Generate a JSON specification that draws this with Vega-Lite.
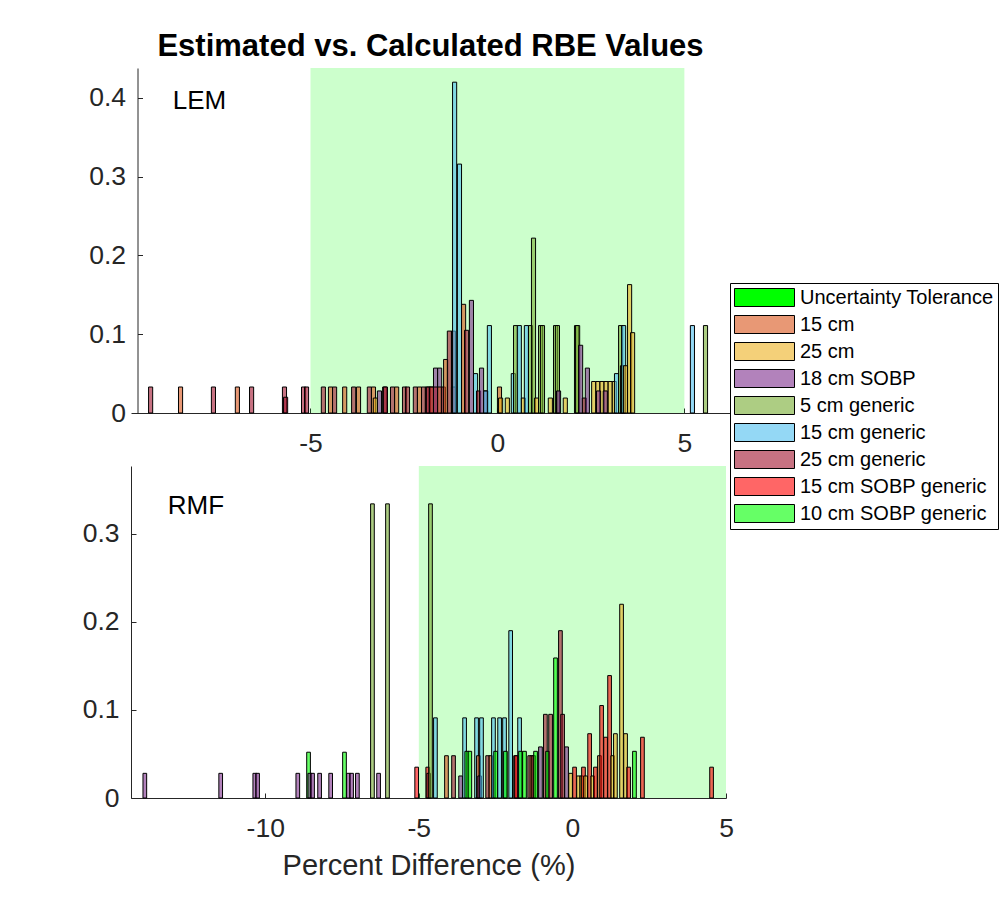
{
  "$schema": "https://vega.github.io/schema/vega-lite/v6.json",
  "background": "white",
  "padding": {"left": 82, "top": 31, "right": 2, "bottom": 5},
  "bounds": "flush",
  "spacing": 53,
  "config": {
    "font": "Liberation Sans",
    "view": {"stroke": null},
    "axis": {
      "grid": false,
      "domainColor": "#262626",
      "tickColor": "#262626",
      "labelColor": "#262626",
      "labelFont": "Liberation Sans",
      "labelFontSize": 26.5,
      "labelFlush": false,
      "labelOverlap": false,
      "tickSize": -5,
      "domainWidth": 1,
      "tickWidth": 1,
      "titleFont": "Liberation Sans",
      "titleFontSize": 29,
      "titleFontWeight": "normal",
      "titleColor": "#262626"
    },
    "axisX": {"labelPadding": 22, "titlePadding": 10},
    "axisY": {"labelPadding": 17}
  },
  "datasets": {
    "lem": [
      {"s": "25 cm generic", "a": -9.33, "b": -9.22, "h": 0.033},
      {"s": "15 cm", "a": -8.53, "b": -8.42, "h": 0.033},
      {"s": "25 cm generic", "a": -7.65, "b": -7.54, "h": 0.033},
      {"s": "15 cm", "a": -7.01, "b": -6.9, "h": 0.033},
      {"s": "25 cm generic", "a": -6.63, "b": -6.52, "h": 0.033},
      {"s": "25 cm generic", "a": -5.75, "b": -5.64, "h": 0.033},
      {"s": "25 cm generic", "a": -5.72, "b": -5.61, "h": 0.02},
      {"s": "25 cm generic", "a": -5.24, "b": -5.13, "h": 0.033},
      {"s": "25 cm generic", "a": -5.16, "b": -5.05, "h": 0.033},
      {"s": "25 cm generic", "a": -4.71, "b": -4.6, "h": 0.033},
      {"s": "15 cm", "a": -4.52, "b": -4.41, "h": 0.033},
      {"s": "25 cm generic", "a": -4.41, "b": -4.3, "h": 0.033},
      {"s": "15 cm", "a": -4.14, "b": -4.03, "h": 0.033},
      {"s": "25 cm generic", "a": -3.9, "b": -3.79, "h": 0.033},
      {"s": "15 cm", "a": -3.77, "b": -3.66, "h": 0.033},
      {"s": "25 cm generic", "a": -3.48, "b": -3.37, "h": 0.033},
      {"s": "15 cm", "a": -3.37, "b": -3.26, "h": 0.033},
      {"s": "25 cm", "a": -3.32, "b": -3.21, "h": 0.019},
      {"s": "18 cm SOBP", "a": -3.21, "b": -3.1, "h": 0.028},
      {"s": "25 cm generic", "a": -3.07, "b": -2.96, "h": 0.033},
      {"s": "25 cm generic", "a": -3.05, "b": -2.94, "h": 0.033},
      {"s": "25 cm generic", "a": -2.86, "b": -2.75, "h": 0.033},
      {"s": "15 cm", "a": -2.75, "b": -2.64, "h": 0.033},
      {"s": "25 cm generic", "a": -2.54, "b": -2.43, "h": 0.033},
      {"s": "25 cm generic", "a": -2.46, "b": -2.35, "h": 0.033},
      {"s": "25 cm generic", "a": -2.25, "b": -2.14, "h": 0.033},
      {"s": "15 cm", "a": -2.14, "b": -2.03, "h": 0.033},
      {"s": "25 cm generic", "a": -2.03, "b": -1.92, "h": 0.033},
      {"s": "25 cm generic", "a": -1.93, "b": -1.82, "h": 0.033},
      {"s": "25 cm generic", "a": -1.9, "b": -1.79, "h": 0.033},
      {"s": "15 cm", "a": -1.82, "b": -1.71, "h": 0.033},
      {"s": "25 cm generic", "a": -1.82, "b": -1.71, "h": 0.033},
      {"s": "18 cm SOBP", "a": -1.71, "b": -1.6, "h": 0.057},
      {"s": "25 cm generic", "a": -1.71, "b": -1.6, "h": 0.033},
      {"s": "18 cm SOBP", "a": -1.6, "b": -1.49, "h": 0.057},
      {"s": "15 cm", "a": -1.6, "b": -1.49, "h": 0.033},
      {"s": "25 cm generic", "a": -1.5, "b": -1.39, "h": 0.033},
      {"s": "15 cm", "a": -1.44, "b": -1.33, "h": 0.068},
      {"s": "25 cm generic", "a": -1.34, "b": -1.23, "h": 0.104},
      {"s": "25 cm generic", "a": -1.23, "b": -1.12, "h": 0.104},
      {"s": "25 cm generic", "a": -1.23, "b": -1.12, "h": 0.033},
      {"s": "15 cm generic", "a": -1.2, "b": -1.09, "h": 0.42},
      {"s": "15 cm generic", "a": -1.07, "b": -0.96, "h": 0.316},
      {"s": "15 cm", "a": -0.96, "b": -0.85, "h": 0.138},
      {"s": "25 cm generic", "a": -0.88, "b": -0.77, "h": 0.105},
      {"s": "18 cm SOBP", "a": -0.75, "b": -0.64, "h": 0.143},
      {"s": "15 cm generic", "a": -0.64, "b": -0.53, "h": 0.05},
      {"s": "25 cm generic", "a": -0.56, "b": -0.45, "h": 0.028},
      {"s": "18 cm SOBP", "a": -0.48, "b": -0.37, "h": 0.057},
      {"s": "18 cm SOBP", "a": -0.37, "b": -0.26, "h": 0.028},
      {"s": "15 cm generic", "a": -0.37, "b": -0.26, "h": 0.028},
      {"s": "15 cm generic", "a": -0.27, "b": -0.16, "h": 0.111},
      {"s": "15 cm", "a": 0.0, "b": 0.11, "h": 0.033},
      {"s": "25 cm", "a": 0.03, "b": 0.14, "h": 0.019},
      {"s": "25 cm", "a": 0.21, "b": 0.32, "h": 0.019},
      {"s": "15 cm generic", "a": 0.37, "b": 0.48, "h": 0.05},
      {"s": "5 cm generic", "a": 0.43, "b": 0.54, "h": 0.111},
      {"s": "15 cm generic", "a": 0.53, "b": 0.64, "h": 0.111},
      {"s": "25 cm", "a": 0.64, "b": 0.75, "h": 0.019},
      {"s": "15 cm generic", "a": 0.72, "b": 0.83, "h": 0.111},
      {"s": "5 cm generic", "a": 0.83, "b": 0.94, "h": 0.111},
      {"s": "5 cm generic", "a": 0.91, "b": 1.02, "h": 0.222},
      {"s": "25 cm", "a": 0.99, "b": 1.1, "h": 0.019},
      {"s": "5 cm generic", "a": 1.1, "b": 1.21, "h": 0.111},
      {"s": "5 cm generic", "a": 1.15, "b": 1.26, "h": 0.111},
      {"s": "25 cm", "a": 1.36, "b": 1.47, "h": 0.019},
      {"s": "5 cm generic", "a": 1.5, "b": 1.61, "h": 0.111},
      {"s": "5 cm generic", "a": 1.55, "b": 1.66, "h": 0.111},
      {"s": "18 cm SOBP", "a": 1.58, "b": 1.69, "h": 0.028},
      {"s": "25 cm", "a": 1.76, "b": 1.87, "h": 0.019},
      {"s": "5 cm generic", "a": 2.06, "b": 2.17, "h": 0.111},
      {"s": "5 cm generic", "a": 2.09, "b": 2.2, "h": 0.111},
      {"s": "18 cm SOBP", "a": 2.17, "b": 2.28, "h": 0.086},
      {"s": "25 cm generic", "a": 2.27, "b": 2.38, "h": 0.019},
      {"s": "18 cm SOBP", "a": 2.35, "b": 2.46, "h": 0.057},
      {"s": "25 cm", "a": 2.52, "b": 2.63, "h": 0.04},
      {"s": "25 cm", "a": 2.63, "b": 2.74, "h": 0.04},
      {"s": "25 cm", "a": 2.74, "b": 2.85, "h": 0.04},
      {"s": "25 cm", "a": 2.85, "b": 2.96, "h": 0.04},
      {"s": "25 cm", "a": 2.96, "b": 3.07, "h": 0.04},
      {"s": "25 cm", "a": 3.07, "b": 3.18, "h": 0.04},
      {"s": "18 cm SOBP", "a": 2.65, "b": 2.76, "h": 0.028},
      {"s": "18 cm SOBP", "a": 2.83, "b": 2.94, "h": 0.028},
      {"s": "15 cm generic", "a": 3.13, "b": 3.24, "h": 0.05},
      {"s": "5 cm generic", "a": 3.24, "b": 3.35, "h": 0.111},
      {"s": "5 cm generic", "a": 3.29, "b": 3.4, "h": 0.06},
      {"s": "15 cm generic", "a": 3.32, "b": 3.43, "h": 0.111},
      {"s": "25 cm", "a": 3.37, "b": 3.48, "h": 0.06},
      {"s": "25 cm", "a": 3.48, "b": 3.59, "h": 0.163},
      {"s": "25 cm", "a": 3.56, "b": 3.67, "h": 0.102},
      {"s": "15 cm generic", "a": 5.16, "b": 5.27, "h": 0.111},
      {"s": "5 cm generic", "a": 5.51, "b": 5.62, "h": 0.111}
    ],
    "rmf": [
      {"s": "18 cm SOBP", "a": -13.98, "b": -13.86, "h": 0.028},
      {"s": "18 cm SOBP", "a": -11.51, "b": -11.39, "h": 0.028},
      {"s": "18 cm SOBP", "a": -10.4, "b": -10.28, "h": 0.028},
      {"s": "18 cm SOBP", "a": -10.31, "b": -10.19, "h": 0.028},
      {"s": "18 cm SOBP", "a": -9.0, "b": -8.88, "h": 0.028},
      {"s": "10 cm SOBP generic", "a": -8.65, "b": -8.53, "h": 0.052},
      {"s": "18 cm SOBP", "a": -8.61, "b": -8.49, "h": 0.028},
      {"s": "18 cm SOBP", "a": -8.52, "b": -8.4, "h": 0.028},
      {"s": "18 cm SOBP", "a": -8.29, "b": -8.17, "h": 0.028},
      {"s": "18 cm SOBP", "a": -7.93, "b": -7.81, "h": 0.028},
      {"s": "10 cm SOBP generic", "a": -7.48, "b": -7.36, "h": 0.052},
      {"s": "18 cm SOBP", "a": -7.35, "b": -7.23, "h": 0.028},
      {"s": "18 cm SOBP", "a": -7.25, "b": -7.13, "h": 0.028},
      {"s": "18 cm SOBP", "a": -7.06, "b": -6.94, "h": 0.028},
      {"s": "5 cm generic", "a": -6.57, "b": -6.45, "h": 0.334},
      {"s": "18 cm SOBP", "a": -6.37, "b": -6.25, "h": 0.028},
      {"s": "5 cm generic", "a": -6.08, "b": -5.96, "h": 0.334},
      {"s": "15 cm SOBP generic", "a": -5.13, "b": -5.01, "h": 0.035},
      {"s": "15 cm SOBP generic", "a": -4.77, "b": -4.65, "h": 0.035},
      {"s": "25 cm generic", "a": -4.74, "b": -4.62, "h": 0.028},
      {"s": "5 cm generic", "a": -4.68, "b": -4.56, "h": 0.334},
      {"s": "15 cm generic", "a": -4.52, "b": -4.4, "h": 0.091},
      {"s": "15 cm", "a": -4.16, "b": -4.04, "h": 0.048},
      {"s": "25 cm generic", "a": -3.93, "b": -3.81, "h": 0.048},
      {"s": "18 cm SOBP", "a": -3.7, "b": -3.58, "h": 0.025},
      {"s": "15 cm generic", "a": -3.57, "b": -3.45, "h": 0.091},
      {"s": "10 cm SOBP generic", "a": -3.5, "b": -3.38, "h": 0.053},
      {"s": "10 cm SOBP generic", "a": -3.4, "b": -3.28, "h": 0.053},
      {"s": "15 cm generic", "a": -3.18, "b": -3.06, "h": 0.091},
      {"s": "15 cm", "a": -3.12, "b": -3.0, "h": 0.048},
      {"s": "18 cm SOBP", "a": -3.08, "b": -2.96, "h": 0.025},
      {"s": "15 cm generic", "a": -3.02, "b": -2.9, "h": 0.091},
      {"s": "25 cm generic", "a": -2.82, "b": -2.7, "h": 0.048},
      {"s": "15 cm", "a": -2.72, "b": -2.6, "h": 0.048},
      {"s": "15 cm generic", "a": -2.63, "b": -2.51, "h": 0.091},
      {"s": "10 cm SOBP generic", "a": -2.56, "b": -2.44, "h": 0.053},
      {"s": "15 cm generic", "a": -2.43, "b": -2.31, "h": 0.091},
      {"s": "15 cm generic", "a": -2.27, "b": -2.15, "h": 0.091},
      {"s": "10 cm SOBP generic", "a": -2.24, "b": -2.12, "h": 0.053},
      {"s": "15 cm generic", "a": -2.07, "b": -1.95, "h": 0.19},
      {"s": "25 cm generic", "a": -1.91, "b": -1.79, "h": 0.048},
      {"s": "15 cm SOBP generic", "a": -1.88, "b": -1.76, "h": 0.048},
      {"s": "15 cm generic", "a": -1.78, "b": -1.66, "h": 0.091},
      {"s": "10 cm SOBP generic", "a": -1.75, "b": -1.63, "h": 0.053},
      {"s": "10 cm SOBP generic", "a": -1.62, "b": -1.5, "h": 0.053},
      {"s": "25 cm generic", "a": -1.45, "b": -1.33, "h": 0.048},
      {"s": "15 cm", "a": -1.38, "b": -1.26, "h": 0.048},
      {"s": "25 cm generic", "a": -1.32, "b": -1.2, "h": 0.048},
      {"s": "10 cm SOBP generic", "a": -1.26, "b": -1.14, "h": 0.053},
      {"s": "18 cm SOBP", "a": -1.1, "b": -0.98, "h": 0.058},
      {"s": "25 cm generic", "a": -0.94, "b": -0.82, "h": 0.095},
      {"s": "10 cm SOBP generic", "a": -0.87, "b": -0.75, "h": 0.053},
      {"s": "25 cm generic", "a": -0.77, "b": -0.65, "h": 0.095},
      {"s": "10 cm SOBP generic", "a": -0.61, "b": -0.49, "h": 0.159},
      {"s": "25 cm generic", "a": -0.45, "b": -0.33, "h": 0.19},
      {"s": "25 cm generic", "a": -0.38, "b": -0.26, "h": 0.095},
      {"s": "18 cm SOBP", "a": -0.25, "b": -0.13, "h": 0.058},
      {"s": "25 cm", "a": -0.12, "b": 0.0, "h": 0.028},
      {"s": "15 cm SOBP generic", "a": 0.01, "b": 0.13, "h": 0.035},
      {"s": "25 cm", "a": 0.14, "b": 0.26, "h": 0.025},
      {"s": "25 cm", "a": 0.24, "b": 0.36, "h": 0.025},
      {"s": "15 cm SOBP generic", "a": 0.3, "b": 0.42, "h": 0.035},
      {"s": "25 cm", "a": 0.37, "b": 0.49, "h": 0.025},
      {"s": "15 cm SOBP generic", "a": 0.5, "b": 0.62, "h": 0.073},
      {"s": "25 cm", "a": 0.6, "b": 0.72, "h": 0.025},
      {"s": "15 cm SOBP generic", "a": 0.69, "b": 0.81, "h": 0.035},
      {"s": "15 cm", "a": 0.82, "b": 0.94, "h": 0.048},
      {"s": "15 cm SOBP generic", "a": 0.89, "b": 1.01, "h": 0.105},
      {"s": "15 cm SOBP generic", "a": 1.02, "b": 1.14, "h": 0.069},
      {"s": "15 cm SOBP generic", "a": 1.15, "b": 1.27, "h": 0.139},
      {"s": "25 cm", "a": 1.25, "b": 1.37, "h": 0.048},
      {"s": "25 cm", "a": 1.34, "b": 1.46, "h": 0.073},
      {"s": "25 cm", "a": 1.54, "b": 1.66, "h": 0.22},
      {"s": "25 cm", "a": 1.67, "b": 1.79, "h": 0.073},
      {"s": "15 cm SOBP generic", "a": 1.77, "b": 1.89, "h": 0.035},
      {"s": "10 cm SOBP generic", "a": 1.96, "b": 2.08, "h": 0.053},
      {"s": "15 cm SOBP generic", "a": 2.22, "b": 2.34, "h": 0.069},
      {"s": "15 cm SOBP generic", "a": 4.47, "b": 4.59, "h": 0.035}
    ]
  },
  "vconcat": [
    {
      "width": 599,
      "height": 345,
      "title": {
        "text": "Estimated vs. Calculated RBE Values",
        "fontSize": 31,
        "fontWeight": "bold",
        "font": "Liberation Sans",
        "color": "black",
        "anchor": "middle",
        "offset": 5
      },
      "layer": [
        {
          "data": {"values": [{"s": "Uncertainty Tolerance", "a": -5, "b": 5}]},
          "mark": {"type": "rect", "opacity": 0.2},
          "encoding": {
            "x": {"field": "a", "type": "quantitative", "scale": {"domain": [-9.8, 6.22], "nice": false, "zero": false}},
            "x2": {"field": "b"},
            "color": {"field": "s", "type": "nominal"}
          }
        },
        {
          "data": {"name": "lem"},
          "mark": {"type": "bar", "fillOpacity": 0.6, "stroke": "black", "strokeWidth": 1},
          "encoding": {
            "x": {
              "field": "a", "type": "quantitative",
              "scale": {"domain": [-9.8, 6.22], "nice": false, "zero": false},
              "axis": {"title": null, "values": [-5, 0, 5], "labelExpr": "'' + datum.value"}
            },
            "x2": {"field": "b"},
            "y": {
              "field": "h", "type": "quantitative",
              "scale": {"domain": [0, 0.438], "nice": false},
              "axis": {"title": null, "values": [0, 0.1, 0.2, 0.3, 0.4], "labelExpr": "'' + datum.value", "offset": -6.5}
            },
            "y2": {"datum": 0},
            "color": {
              "field": "s", "type": "nominal",
              "scale": {
                "domain": ["Uncertainty Tolerance", "15 cm", "25 cm", "18 cm SOBP", "5 cm generic", "15 cm generic", "25 cm generic", "15 cm SOBP generic", "10 cm SOBP generic"],
                "range": ["#00ff00", "#d95319", "#edb120", "#7e2f8e", "#77ac30", "#4dbeee", "#a2142f", "#ff0000", "#00ff00"]
              },
              "legend": {
                "title": null,
                "orient": "none",
                "legendX": 599,
                "legendY": 215,
                "symbolType": "M-1,-0.9H5V0.9H-1Z",
                "symbolSize": 400,
                "symbolStrokeColor": "black",
                "symbolStrokeWidth": 1,
                "labelFont": "Liberation Sans",
                "labelFontSize": 20,
                "labelColor": "black",
                "labelOffset": 45,
                "labelLimit": 400,
                "rowPadding": 4,
                "padding": 4,
                "strokeColor": "black",
                "fillColor": "white",
                "cornerRadius": 0,
                "encode": {
                  "symbols": {
                    "update": {
                      "fillOpacity": {"signal": "datum.value === 'Uncertainty Tolerance' ? 1 : 0.6"},
                      "opacity": {"value": 1}
                    }
                  }
                }
              }
            }
          }
        },
        {
          "data": {"values": [{"t": "LEM", "x": -8.685, "y": 0.3857}]},
          "mark": {"type": "text", "align": "left", "baseline": "alphabetic", "fontSize": 26, "font": "Liberation Sans", "color": "black"},
          "encoding": {
            "x": {"field": "x", "type": "quantitative"},
            "y": {"field": "y", "type": "quantitative"},
            "text": {"field": "t"}
          }
        }
      ]
    },
    {
      "width": 595,
      "height": 332,
      "layer": [
        {
          "data": {"values": [{"s": "Uncertainty Tolerance", "a": -5, "b": 5}]},
          "mark": {"type": "rect", "opacity": 0.2},
          "encoding": {
            "x": {"field": "a", "type": "quantitative", "scale": {"domain": [-14.37, 5], "nice": false, "zero": false}},
            "x2": {"field": "b"},
            "color": {"field": "s", "type": "nominal"}
          }
        },
        {
          "data": {"name": "rmf"},
          "mark": {"type": "bar", "fillOpacity": 0.6, "stroke": "black", "strokeWidth": 1},
          "encoding": {
            "x": {
              "field": "a", "type": "quantitative",
              "scale": {"domain": [-14.37, 5], "nice": false, "zero": false},
              "axis": {"title": "Percent Difference (%)", "values": [-10, -5, 0, 5], "labelExpr": "'' + datum.value"}
            },
            "x2": {"field": "b"},
            "y": {
              "field": "h", "type": "quantitative",
              "scale": {"domain": [0, 0.377], "nice": false},
              "axis": {"title": null, "values": [0, 0.1, 0.2, 0.3], "labelExpr": "'' + datum.value"}
            },
            "y2": {"datum": 0},
            "color": {"field": "s", "type": "nominal"}
          }
        },
        {
          "data": {"values": [{"t": "RMF", "x": -13.175, "y": 0.3226}]},
          "mark": {"type": "text", "align": "left", "baseline": "alphabetic", "fontSize": 26, "font": "Liberation Sans", "color": "black"},
          "encoding": {
            "x": {"field": "x", "type": "quantitative"},
            "y": {"field": "y", "type": "quantitative"},
            "text": {"field": "t"}
          }
        }
      ]
    }
  ],
  "resolve": {"scale": {"x": "independent", "y": "independent", "color": "shared"}}
}
